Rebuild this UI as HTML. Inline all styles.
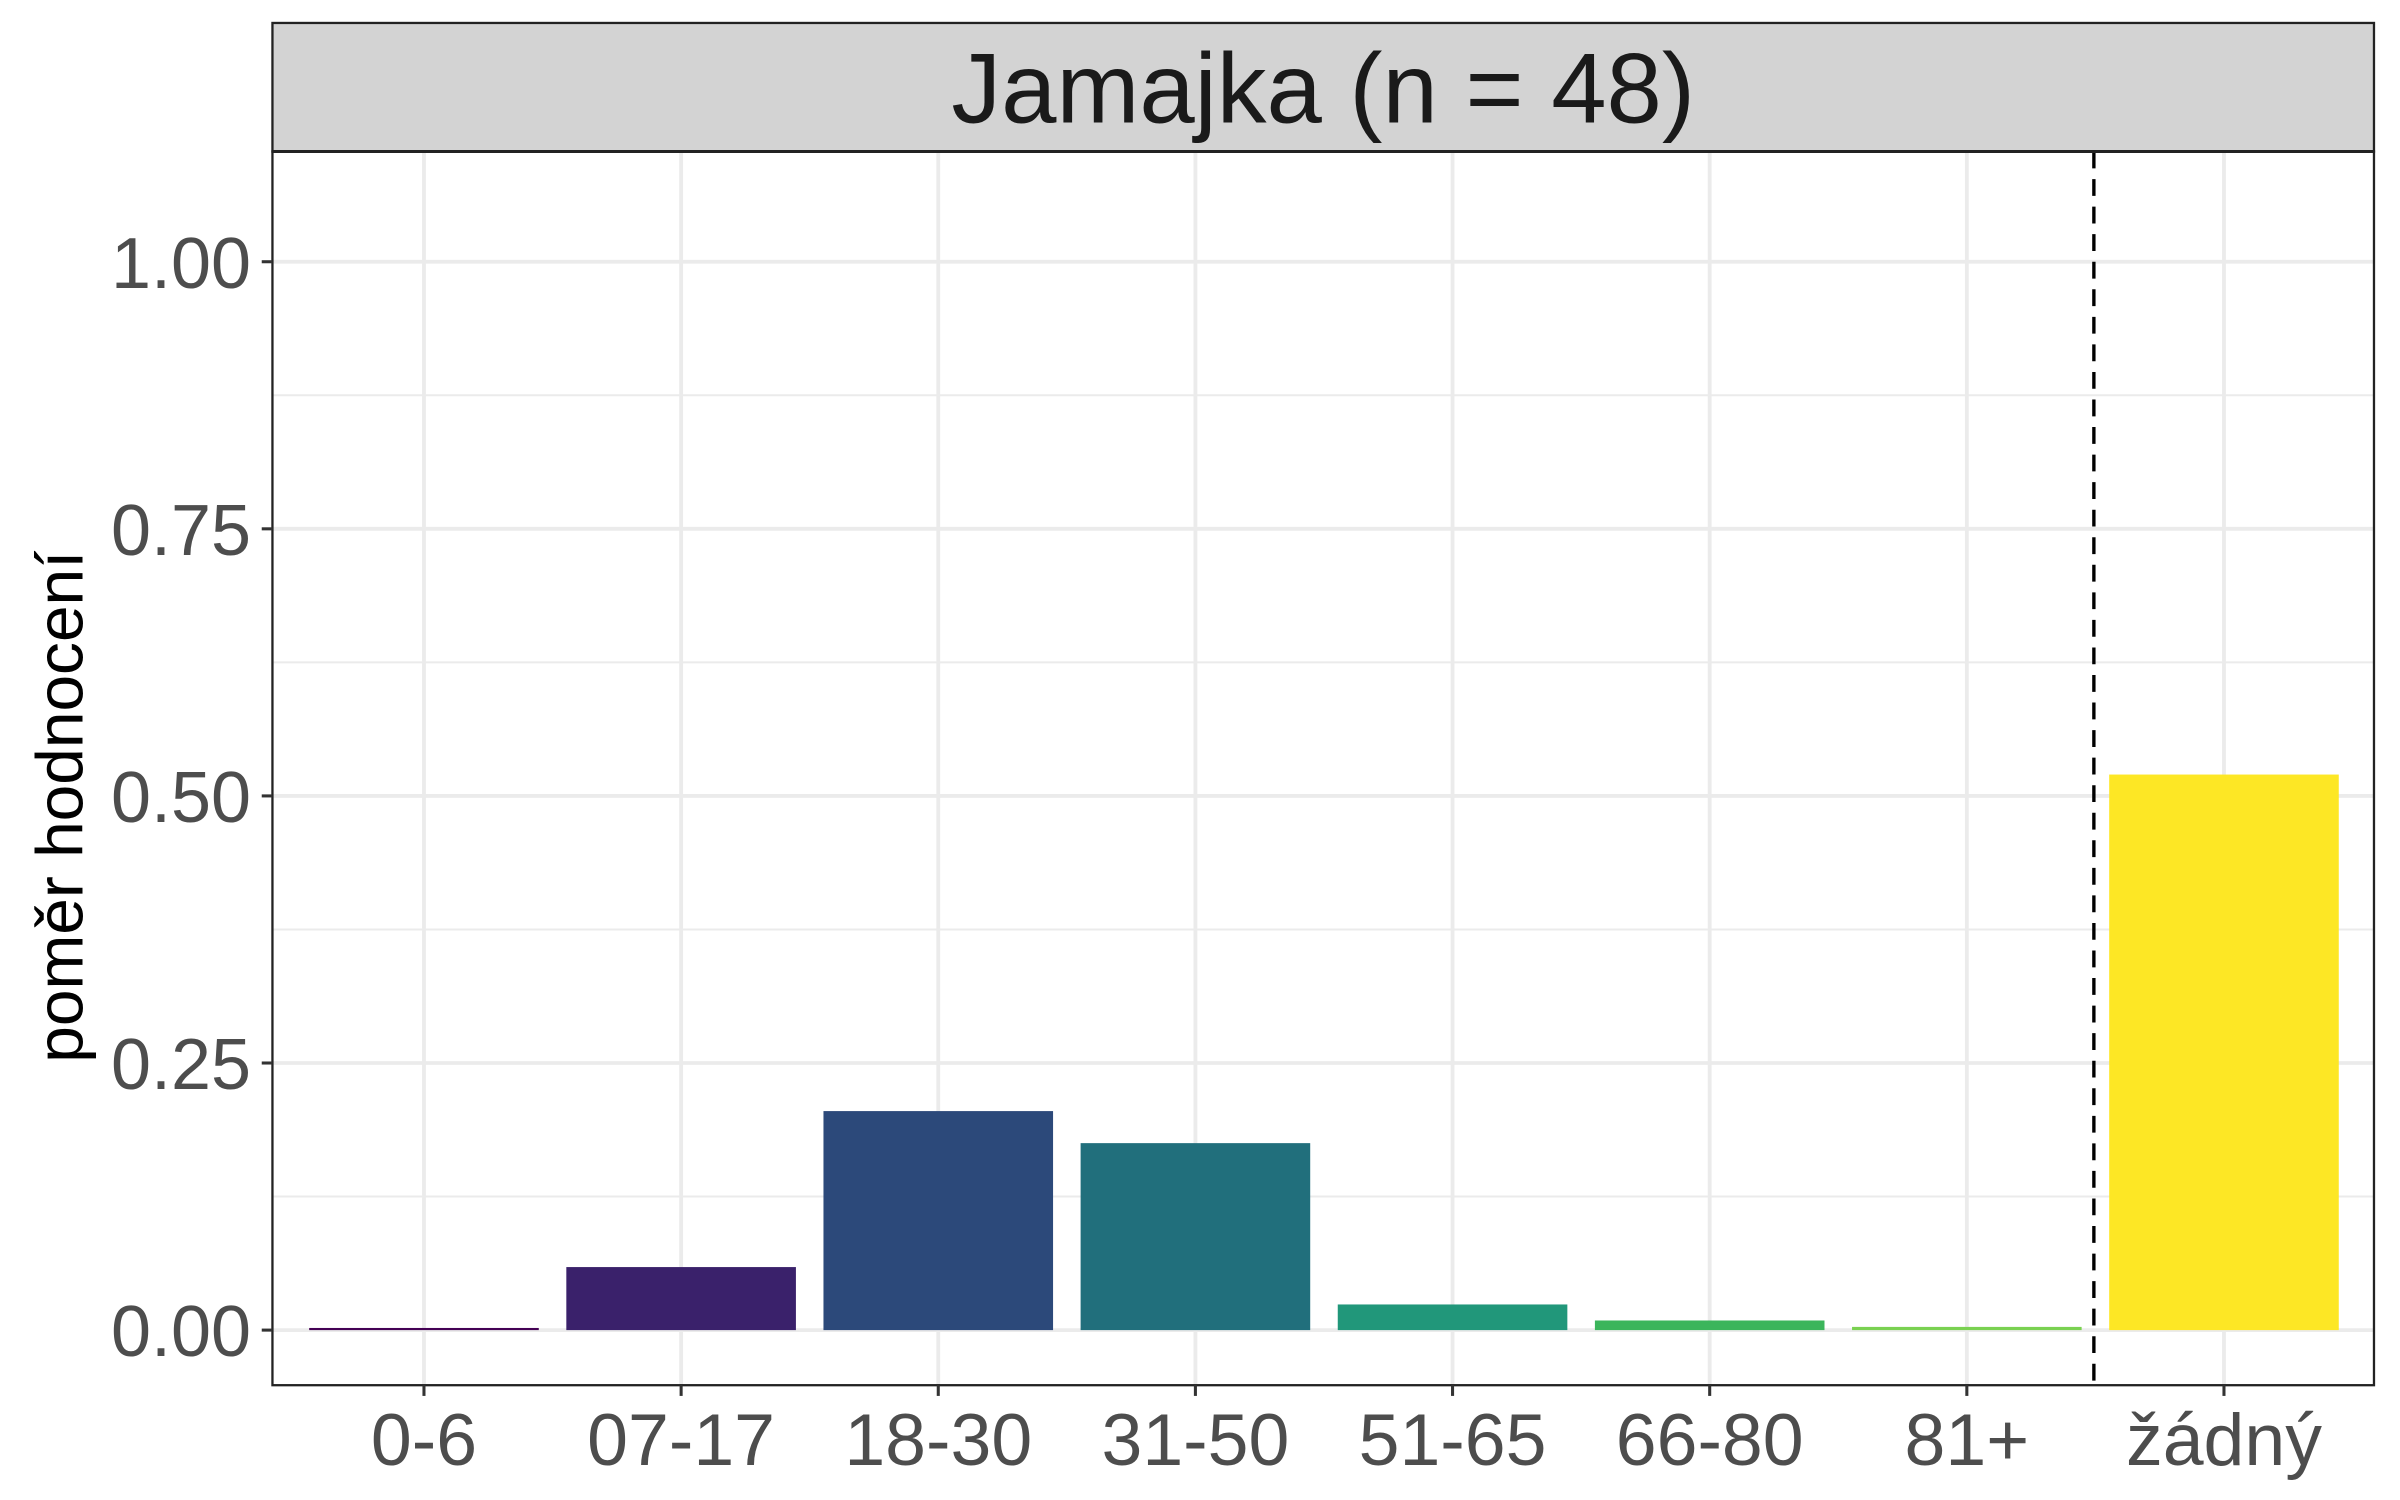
<!DOCTYPE html>
<html><head><meta charset="utf-8"><style>
html,body{margin:0;padding:0;background:#fff;}
svg{display:block;font-family:"Liberation Sans",Arial,sans-serif;}
</style></head><body>
<svg id="chart" width="2400" height="1500" viewBox="0 0 1568 980" preserveAspectRatio="none" xmlns="http://www.w3.org/2000/svg">
<rect x="0" y="0" width="1568" height="980" fill="#fff"/>
<g id="grid"></g>
<g id="bars"></g>
<line x1="1368" x2="1368" y1="99" y2="905" stroke="#000" stroke-width="2.2" stroke-dasharray="11,7"/>
<rect x="178" y="99" width="1373" height="806" fill="none" stroke="#222" stroke-width="1.5"/>
<rect x="178" y="15" width="1373" height="84" fill="#d3d3d3" stroke="#222" stroke-width="1.5"/>
<line x1="178" x2="1551" y1="99" y2="99" stroke="#222" stroke-width="2"/>
<text x="864.5" y="80" font-size="65" text-anchor="middle" fill="#1a1a1a">Jamajka (n = 48)</text>
<g id="axes"></g>
<text transform="translate(54,527) rotate(-90)" font-size="43" text-anchor="middle" fill="#000">poměr hodnocení</text>
</svg>
<script>
const categories = ["0-6","07-17","18-30","31-50","51-65","66-80","81+","žádný"];
const values = [0.002,0.059,0.205,0.175,0.024,0.009,0.003,0.52];
const colors = ["#440154","#3a216b","#2c497a","#216f7c","#21977a","#3bb55b","#7ad151","#fde725"];
const yTicks = [0,0.25,0.5,0.75,1];
const yTickLabels = ["0.00","0.25","0.50","0.75","1.00"];
const yMinor = [0.125,0.375,0.625,0.875];

const NS="http://www.w3.org/2000/svg";
const X0=178,X1=1551,Y0=99,Y1=905;
function y(v){return 869-v*698;}
function x(i){return 277+168*i;}
const bw=150;
function mk(tag,attrs,parent){const e=document.createElementNS(NS,tag);for(const k in attrs)e.setAttribute(k,attrs[k]);parent.appendChild(e);return e;}
const grid=document.getElementById('grid'),bars=document.getElementById('bars'),axes=document.getElementById('axes');
yMinor.forEach(v=>{const l=mk('line',{x1:X0,x2:X1,y1:y(v),y2:y(v),stroke:'#ebebeb','stroke-width':1.3},grid);

});
yTicks.forEach((v,i)=>{const l=mk('line',{x1:X0,x2:X1,y1:y(v),y2:y(v),stroke:'#ebebeb','stroke-width':2.5},grid);


const t=mk('line',{x1:X0-7,x2:X0,y1:y(v),y2:y(v),stroke:'#333','stroke-width':2},axes);


const tx=mk('text',{x:X0-14,y:y(v)+17,'font-size':47,'text-anchor':'end',fill:'#4d4d4d'},axes);tx.textContent=yTickLabels[i];

});
categories.forEach((c,i)=>{const l=mk('line',{x1:x(i),x2:x(i),y1:Y0,y2:Y1,stroke:'#ebebeb','stroke-width':2.5},grid);


const b=mk('rect',{x:x(i)-bw/2,y:y(values[i]),width:bw,height:Math.max(0,y(0)-y(values[i])),fill:colors[i]},bars);


const t=mk('line',{x1:x(i),x2:x(i),y1:Y1,y2:Y1+7,stroke:'#333','stroke-width':2},axes);


const tx=mk('text',{x:x(i),y:957,'font-size':48,'text-anchor':'middle',fill:'#4d4d4d'},axes);tx.textContent=c;

});
</script>
</body></html>
